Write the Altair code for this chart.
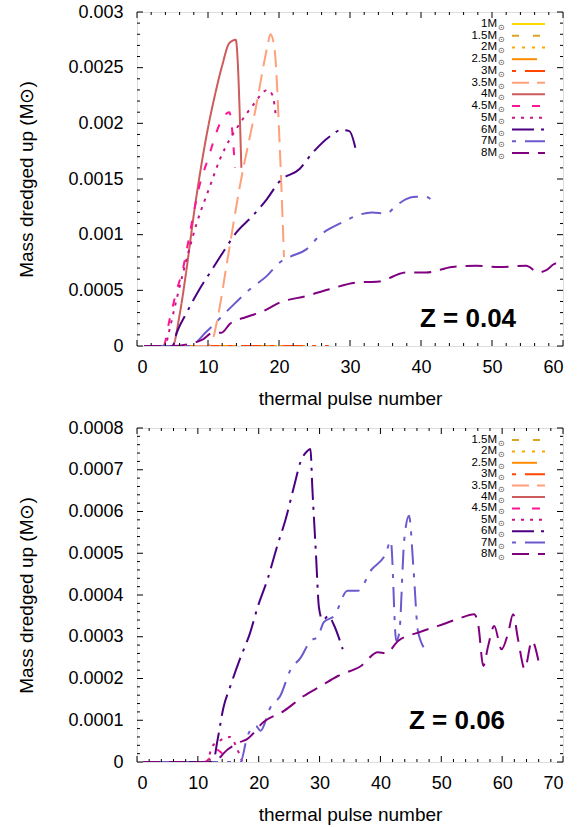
import altair as alt
import pandas as pd

FONT = "Liberation Sans"

masses = ["1M", "1.5M", "2M", "2.5M", "3M", "3.5M", "4M", "4.5M", "5M", "6M", "7M", "8M"]
colors = ["#FFD700", "#DAA520", "#FFA500", "#FF8C00", "#FF4500", "#FFA07A",
          "#CD5C5C", "#FF1493", "#C71585", "#4B0082", "#6A5ACD", "#800080"]
dashes = [[1, 0], [7, 14], [3, 7], [25, 9], [4, 9, 20, 9], [17, 8],
          [1, 0], [8, 12], [3, 6], [22, 7, 3, 7], [4, 9, 20, 9], [17, 9]]

# ---------------- Z = 0.04 ----------------
z04_1_x = [1, 4, 8, 12]
z04_1_y = [0, 0, 0, 0]
z04_15_x = [1, 5, 10, 15, 18]
z04_15_y = [0, 0, 0, 0, 0]
z04_2_x = [1, 5, 10, 15, 20]
z04_2_y = [0, 0, 0, 0, 0]
z04_25_x = [1, 5, 10, 15, 20, 24]
z04_25_y = [0, 0, 0, 0, 0, 0]
z04_3_x = [1, 5, 10, 15, 20, 25, 27]
z04_3_y = [0, 0, 0, 0, 0, 0, 0]
z04_35_x = [1, 5, 10, 10.5, 11.5, 12.6, 14.5, 16.8, 18.3, 18.8, 19.4, 20.1, 20.7]
z04_35_y = [0, 0, 0, 0.00003, 0.0003, 0.00072, 0.00144, 0.00216, 0.00267, 0.0028, 0.00265, 0.0018, 0.0008]
z04_4_x = [1, 3, 5, 6, 7, 8, 9, 10, 11, 12, 13, 13.9, 14.7]
z04_4_y = [0, 0, 0, 0.00028, 0.0007, 0.00118, 0.0016, 0.00196, 0.00226, 0.00252, 0.00272, 0.00275, 0.0016]
z04_45_x = [1, 3, 3.7, 4.6, 5.6, 6.5, 7.2, 8.8, 10, 11.7, 13, 13.8]
z04_45_y = [0, 0, 0, 0.00024, 0.0005, 0.0007, 0.00093, 0.00144, 0.00168, 0.002, 0.0021, 0.0016]
z04_5_x = [1, 3, 4, 4.4, 5.5, 6.5, 8.4, 10.3, 11.7, 13.1, 14.5, 16.3, 18.4, 19.1, 19.6]
z04_5_y = [0, 0, 0, 0.0001, 0.0004, 0.00066, 0.0011, 0.00144, 0.00168, 0.00186, 0.002, 0.00216, 0.0023, 0.00225, 0.00204]
z04_6_x = [1, 3, 5, 5.6, 7, 8.8, 10.5, 12.1, 14, 16.3, 18.3, 20.1, 22.9, 24.8, 27.1, 28.8, 29.9, 30.9]
z04_6_y = [0, 0, 0, 0.00012, 0.0003, 0.00051, 0.00068, 0.00084, 0.00102, 0.00117, 0.00132, 0.00148,
           0.00159, 0.00174, 0.00188, 0.00194, 0.00193, 0.00174]
z04_7_x = [1, 5, 7.4, 9.8, 13.1, 15.9, 18.3, 20.1, 21.5, 23.9, 25.7, 28.9, 30.9, 33.1, 35.1, 36.5,
           37.9, 39.3, 40.7, 41.9]
z04_7_y = [0, 0, 0, 0.00013, 0.00034, 0.00051, 0.00063, 0.00075, 0.0008, 0.00087, 0.00099, 0.00111,
           0.00117, 0.0012, 0.00119, 0.00126, 0.00132, 0.00134, 0.00134, 0.00128]
z04_8_x = [1, 5, 7.4, 9.3, 10.7, 11.9, 13.1, 15.4, 17.7, 20.1, 23.9, 27.1, 30.9, 34.1, 37.9, 40.7,
           44.4, 47.8, 51, 54.8, 56.6, 57.6, 59, 59.8]
z04_8_y = [0, 0, 0.00002, 0.00006, 0.00012, 0.00012, 0.0002, 0.00026, 0.00031, 0.00039, 0.00045,
           0.00051, 0.00057, 0.00058, 0.00066, 0.00066, 0.00071, 0.00072, 0.00071, 0.00072, 0.00066,
           0.00068, 0.00074, 0.00069]

# ---------------- Z = 0.06 ----------------
z06_15_x = [1, 5, 10, 13]
z06_15_y = [0, 0, 0, 0]
z06_2_x = [1, 5, 10, 13]
z06_2_y = [0, 0, 0, 0]
z06_25_x = [1, 5, 10, 12]
z06_25_y = [0, 0, 0, 0]
z06_3_x = [1, 5, 10, 12]
z06_3_y = [0, 0, 0, 0]
z06_35_x = [1, 5, 10, 12]
z06_35_y = [0, 0, 0, 0]
z06_4_x = [1, 5, 10, 12]
z06_4_y = [0, 0, 0, 0]
z06_45_x = [1, 5, 10, 11, 12, 13, 14]
z06_45_y = [0, 0, 0, 0, 0.00001, 0.00003, 0.00002]
z06_5_x = [1, 5, 10, 11.5, 12.3, 13.5, 15.3, 16.5, 17.3]
z06_5_y = [0, 0, 0, 0, 0.000036, 0.00005, 0.00006, 0.00003, 0]
z06_6_x = [1, 5, 10, 12.5, 13.2, 14.2, 15.3, 17, 18.6, 19.8, 21.5, 23.1, 24.4, 25.8, 26.9, 28, 28.5,
           28.8, 29.4, 29.9, 30.5, 31.5, 32.3, 33.8]
z06_6_y = [0, 0, 0, 0, 0.00005, 0.00013, 0.00018, 0.00025, 0.00031, 0.00037, 0.00044, 0.00052,
           0.00058, 0.00066, 0.00072, 0.000745, 0.00075, 0.00066, 0.0005, 0.00037, 0.00034, 0.00035,
           0.00033, 0.00027]
z06_7_x = [1, 5, 10, 15, 17, 18.1, 19.5, 20.3, 21.9, 23.6, 25.2, 26.9, 28.5, 29.7, 30.7, 32.4, 34.6,
           36.3, 38.5, 40.9, 41.7, 42.6, 43.1, 43.9, 44.7, 45.4, 46.2, 47.9]
z06_7_y = [0, 0, 0, 0, 0, 0.00006, 0.000087, 0.000075, 0.00013, 0.00016, 0.00022, 0.00025, 0.00029,
           0.0003, 0.000335, 0.00035, 0.00041, 0.00041, 0.00046, 0.0005, 0.00053, 0.00029, 0.00031,
           0.00053, 0.00059, 0.00047, 0.00031, 0.00026]
z06_8_x = [1, 5, 10, 12.5, 14.9, 17, 18.1, 20.8, 24.1, 27.4, 30.2, 33, 36.8, 39.6, 40.9, 42.9, 46.2,
           49.5, 52.8, 55.4, 56.1, 56.9, 57.7, 58.7, 59.9, 61, 61.8, 62.6, 63.7, 64.9, 66]
z06_8_y = [0, 0, 0, 0, 0.00003, 0.000048, 0.000055, 0.000096, 0.000122, 0.000158, 0.000182, 0.000206,
           0.00023, 0.000263, 0.00026, 0.00029, 0.00031, 0.000326, 0.000343, 0.000354, 0.000326,
           0.00023, 0.000278, 0.000326, 0.00027, 0.00031, 0.000354, 0.000295, 0.000223, 0.00029,
           0.00024]

top_series = [("1M", z04_1_x, z04_1_y), ("1.5M", z04_15_x, z04_15_y), ("2M", z04_2_x, z04_2_y),
              ("2.5M", z04_25_x, z04_25_y), ("3M", z04_3_x, z04_3_y), ("3.5M", z04_35_x, z04_35_y),
              ("4M", z04_4_x, z04_4_y), ("4.5M", z04_45_x, z04_45_y), ("5M", z04_5_x, z04_5_y),
              ("6M", z04_6_x, z04_6_y), ("7M", z04_7_x, z04_7_y), ("8M", z04_8_x, z04_8_y)]
bot_series = [("1.5M", z06_15_x, z06_15_y), ("2M", z06_2_x, z06_2_y),
              ("2.5M", z06_25_x, z06_25_y), ("3M", z06_3_x, z06_3_y), ("3.5M", z06_35_x, z06_35_y),
              ("4M", z06_4_x, z06_4_y), ("4.5M", z06_45_x, z06_45_y), ("5M", z06_5_x, z06_5_y),
              ("6M", z06_6_x, z06_6_y), ("7M", z06_7_x, z06_7_y), ("8M", z06_8_x, z06_8_y)]

top_xticks = [0, 10, 20, 30, 40, 50, 60]
top_yticks = [0, 0.0005, 0.001, 0.0015, 0.002, 0.0025, 0.003]
bot_xticks = [0, 10, 20, 30, 40, 50, 60, 70]
bot_yticks = [0, 0.0001, 0.0002, 0.0003, 0.0004, 0.0005, 0.0006, 0.0007, 0.0008]

W, H = 426, 334


def minors(major, n):
    out = []
    for a, b in zip(major[:-1], major[1:]):
        for k in range(1, n):
            out.append(a + (b - a) * k / n)
    return out


def make_df(series):
    rows = []
    for m, xs, ys in series:
        for x, y in zip(xs, ys):
            rows.append({"mass": m, "pulse": x, "dm": y})
    return pd.DataFrame(rows)


def panel(series, xticks, yticks, zlabel, leg_range, zpos):
    xs = alt.Scale(domain=[xticks[0], xticks[-1]], nice=False, zero=False)
    ys = alt.Scale(domain=[yticks[0], yticks[-1]], nice=False, zero=False)
    xax = alt.Axis(values=xticks, ticks=False, domain=False, grid=False, labelPadding=12,
                   labelFontSize=18, titleFontSize=19, titlePadding=13, format="d",
                   titleFontWeight="normal", labelFont=FONT, titleFont=FONT)
    yax = alt.Axis(values=yticks, ticks=False, domain=False, grid=False, labelPadding=14,
                   labelFontSize=18, titleFontSize=19, titlePadding=31, format="~g",
                   titleFontWeight="normal", labelFont=FONT, titleFont=FONT)
    X = alt.X("pulse:Q", scale=xs, title="thermal pulse number", axis=xax)
    Y = alt.Y("dm:Q", scale=ys, title="Mass dredged up (M⊙)", axis=yax)
    color = alt.Color("mass:N", scale=alt.Scale(domain=masses, range=colors), legend=None)
    dash = alt.StrokeDash("mass:N", scale=alt.Scale(domain=masses, range=dashes), legend=None)

    lines = alt.Chart(make_df(series)).mark_line(strokeWidth=2, interpolate="monotone", clip=True).encode(
        x=X, y=Y, color=color, strokeDash=dash, detail="mass:N")

    layers = [lines]
    xmin = minors(xticks, 5)
    ymin = minors(yticks, 5)
    for vals, L in ((xticks, 6), (xmin, 3)):
        base = alt.Chart(pd.DataFrame({"pulse": vals})).mark_rule(color="black", strokeWidth=1)
        layers.append(base.encode(x=X, y=alt.value(H), y2=alt.value(H - L)))
        layers.append(base.encode(x=X, y=alt.value(0), y2=alt.value(L)))
    for vals, L in ((yticks, 6), (ymin, 3)):
        base = alt.Chart(pd.DataFrame({"dm": vals})).mark_rule(color="black", strokeWidth=1)
        layers.append(base.encode(y=Y, x=alt.value(0), x2=alt.value(L)))
        layers.append(base.encode(y=Y, x=alt.value(W), x2=alt.value(W - L)))

    layers.append(alt.Chart(pd.DataFrame({"t": [zlabel]})).mark_text(
        fontSize=26, fontWeight="bold", font=FONT, color="black").encode(
        x=alt.value(zpos[0]), y=alt.value(zpos[1]), text="t:N"))

    leg_m = [m for m, _, _ in series]
    leg_df = pd.DataFrame({"mass": leg_m})
    yl = alt.Y("mass:N", scale=alt.Scale(type="point", domain=leg_m, range=leg_range, padding=0), axis=None)
    leg_rules = alt.Chart(leg_df).mark_rule(strokeWidth=2).encode(
        x=alt.value(375), x2=alt.value(408), y=yl, color=color, strokeDash=dash)
    leg_text = alt.Chart(leg_df).mark_text(align="right", baseline="middle", fontSize=11.5, font=FONT,
                                           color="black").encode(x=alt.value(360), y=yl, text="mass:N")
    leg_sun = alt.Chart(leg_df).mark_text(text="⊙", align="left", baseline="middle", fontSize=7.5,
                                          dy=4, color="#444").encode(x=alt.value(360.5), y=yl)
    legend = alt.layer(leg_rules, leg_text, leg_sun)

    return alt.layer(alt.layer(*layers), legend).resolve_scale(y="independent").properties(width=W, height=H)


top = panel(top_series, top_xticks, top_yticks, "Z = 0.04", [12, 141], [331, 307])
bot = panel(bot_series, bot_xticks, bot_yticks, "Z = 0.06", [12, 126], [320, 293])

chart = alt.vconcat(top, bot, spacing=9).properties(
    padding={"left": 17, "top": 2, "right": 5, "bottom": 0}
).configure_view(stroke="black", strokeWidth=1.5).configure_axis(
    labelFont=FONT, titleFont=FONT, labelColor="black", titleColor="black", titleFontWeight="normal"
).configure(background="white")

chart.save("out.html", embed_options={"renderer": "svg", "actions": False})
